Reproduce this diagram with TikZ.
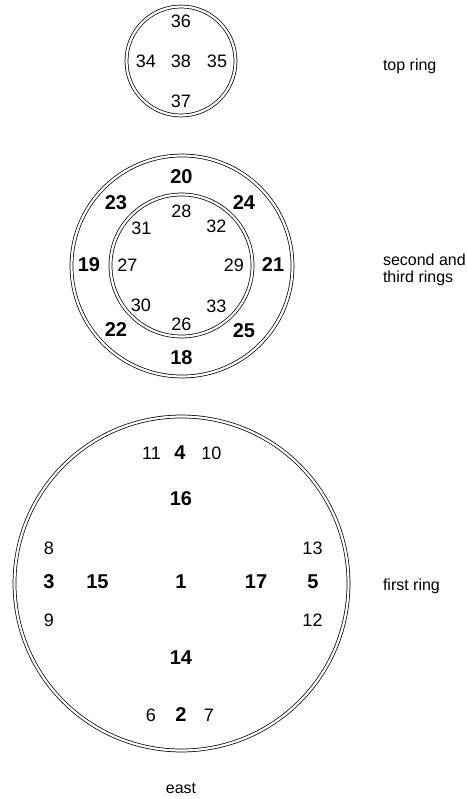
\documentclass[tikz,border=0pt]{standalone}
\usepackage{fontspec}
\setmainfont{Liberation Sans}
\usetikzlibrary{positioning}

\begin{document}
\begin{tikzpicture}[
    x=0.75pt, y=-0.75pt,
    every node/.style={font=\fontsize{12}{12.5}\selectfont, inner sep=0pt, outer sep=0pt},
    ring/.style={circle, draw=black, line width=0.55pt, double, double distance=1.65pt},
    pinnum/.style={anchor=center, font=\fontsize{13.5}{14}\selectfont},
    boldnum/.style={anchor=center, font=\fontsize{15}{16}\selectfont\bfseries},
    ringtag/.style={anchor=base west, align=left}
]
\useasboundingbox (0,0) rectangle (467,799);

\node[ring, minimum size=81.75pt] (topring) at (181,61) {};
\node[ring, minimum size=165.75pt] (secondring) at (182,266) {};
\node[ring, minimum size=106.5pt] (thirdring) at (181.5,265.5) {};
\node[ring, minimum size=250.5pt] (firstring) at (181.5,583.5) {};

\node[pinnum] (p36) at (181,21) {36};
\node[pinnum] (p34) at (146,61) {34};
\node[pinnum] (p38) at (181,61) {38};
\node[pinnum] (p35) at (217,61) {35};
\node[pinnum] (p37) at (181,101.5) {37};

\node[boldnum] (p20) at (181.5,177) {20};
\node[boldnum] (p23) at (116,203) {23};
\node[boldnum] (p24) at (244,203) {24};
\node[boldnum] (p19) at (89,265) {19};
\node[boldnum] (p21) at (273,265) {21};
\node[boldnum] (p22) at (116,330) {22};
\node[boldnum] (p25) at (244,331) {25};
\node[boldnum] (p18) at (181.5,358) {18};

\node[pinnum] (p28) at (181.5,211) {28};
\node[pinnum] (p31) at (141.5,228) {31};
\node[pinnum] (p32) at (216.5,226) {32};
\node[pinnum] (p27) at (127.5,265) {27};
\node[pinnum] (p29) at (234,265) {29};
\node[pinnum] (p30) at (141,305) {30};
\node[pinnum] (p33) at (216.5,306.5) {33};
\node[pinnum] (p26) at (181.5,324) {26};

\node[pinnum] (p11) at (151.5,453) {11};
\node[boldnum] (p4) at (180,453) {4};
\node[pinnum] (p10) at (211.5,453) {10};
\node[boldnum] (p16) at (181,499) {16};
\node[pinnum] (p8) at (49,548) {8};
\node[pinnum] (p13) at (312.5,548) {13};
\node[boldnum] (p3) at (49,582) {3};
\node[boldnum] (p15) at (97.5,582) {15};
\node[boldnum] (p1) at (181,582) {1};
\node[boldnum] (p17) at (256,582) {17};
\node[boldnum] (p5) at (313,582) {5};
\node[pinnum] (p9) at (49,620) {9};
\node[pinnum] (p12) at (312.5,620) {12};
\node[boldnum] (p14) at (181,657.5) {14};
\node[pinnum] (p6) at (151,715) {6};
\node[boldnum] (p2) at (181,715) {2};
\node[pinnum] (p7) at (209,715) {7};

\node[ringtag] (toptag) at (383,70.5) {top ring};
\node[ringtag] (secondtag) at (383,282.5) {second and\\third rings};
\node[ringtag] (firsttag) at (383,590) {first ring};
\node[anchor=base] (east) at (181,793) {east};

\end{tikzpicture}
\end{document}
